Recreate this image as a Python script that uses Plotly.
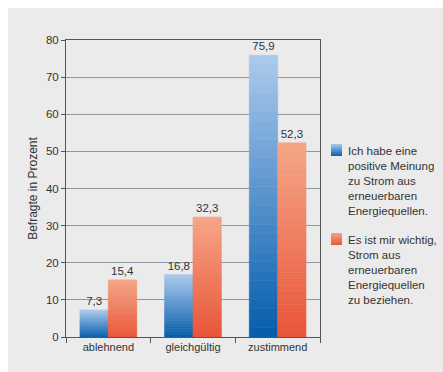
import plotly.graph_objects as go

categories = ["ablehnend", "gleichgültig", "zustimmend"]
meinung = [7.3, 16.8, 75.9]
wichtig = [15.4, 32.3, 52.3]
series_names = [
    "Ich habe eine<br>positive Meinung<br>zu Strom aus<br>erneuerbaren<br>Energiequellen.",
    "Es ist mir wichtig,<br>Strom aus<br>erneuerbaren<br>Energiequellen<br>zu beziehen.",
]

# gradient end points (top colour, bottom colour) per series
blue_top, blue_bottom = (170, 200, 236), (6, 94, 173)
red_top, red_bottom = (245, 165, 135), (233, 86, 58)

N_SEG = 30

W, H = 443, 372
ML, MR, MT, MB = 66, 123, 40, 35
PW, PH = W - ML - MR, H - MT - MB


def px_x(x):
    return (x - ML) / PW


def px_y(y):
    return (H - MB - y) / PH


def mix(c1, c2, t):
    return "rgb({},{},{})".format(*[round(a + (b - a) * t) for a, b in zip(c1, c2)])


def fmt(v):
    return f"{v:.1f}".replace(".", ",")


fig = go.Figure()

series = [
    (meinung, blue_top, blue_bottom),
    (wichtig, red_top, red_bottom),
]

for s, (vals, top, bottom) in enumerate(series):
    for i in range(N_SEG):
        t = i / (N_SEG - 1)
        last = i == N_SEG - 1
        col = mix(bottom, top, t)
        fig.add_trace(go.Bar(
            x=categories,
            y=[v / N_SEG for v in vals],
            base=[v * i / N_SEG for v in vals],
            offsetgroup=str(s),
            showlegend=False,
            marker=dict(color=col, line=dict(width=0.6, color=col)),
            text=[fmt(v) for v in vals] if last else None,
            textposition="outside" if last else "none",
            textfont=dict(size=11.5, color="#333333"),
            constraintext="none",
            cliponaxis=False,
            hoverinfo="skip",
        ))

# legend: gradient swatches and multi-line labels
shapes = [
    # grey panel behind the chart
    dict(type="rect", xref="paper", yref="paper", x0=px_x(8), x1=px_x(W + 10),
         y0=px_y(H + 10), y1=px_y(8), fillcolor="#ebebeb", line=dict(width=0), layer="below"),
]
annotations = []
legend_tops = [144, 233]
n_strip = 6
for (vals, top, bottom), name, ytop in zip(series, series_names, legend_tops):
    for k in range(n_strip):
        y0 = ytop + 12 * k / n_strip
        y1 = ytop + 12 * (k + 1) / n_strip
        shapes.append(dict(
            type="rect", xref="paper", yref="paper",
            x0=px_x(331), x1=px_x(342), y0=px_y(y1), y1=px_y(y0),
            fillcolor=mix(top, bottom, (k + 0.5) / n_strip), line=dict(width=0),
        ))
    annotations.append(dict(
        xref="paper", yref="paper", x=px_x(346), y=px_y(ytop - 1.5),
        xanchor="left", yanchor="top", align="left", showarrow=False,
        text=name, font=dict(size=11.5, color="#333333"),
    ))

fig.update_layout(
    width=W,
    height=H,
    barmode="group",
    bargap=0.33,
    bargroupgap=0,
    margin=dict(l=ML, r=MR, t=MT, b=MB, autoexpand=False),
    paper_bgcolor="white",
    plot_bgcolor="#e8f4fc",
    font=dict(family="Liberation Sans, Arial, sans-serif", size=11, color="#333333"),
    separators=",.",
    showlegend=False,
    shapes=shapes,
    annotations=annotations,
)

fig.update_yaxes(
    range=[0, 80], dtick=10,
    showgrid=True, gridcolor="#8d99a2", gridwidth=1,
    showline=True, linecolor="#555555", linewidth=1, mirror=True,
    ticks="outside", ticklen=4, tickcolor="#555555",
    zeroline=False,
    tickfont=dict(size=11.5, color="#333333"),
    title=dict(text="Befragte in Prozent", font=dict(size=12, color="#333333"), standoff=5),
)
fig.update_xaxes(
    showline=True, linecolor="#555555", linewidth=1, mirror=True,
    ticks="outside", tickson="boundaries", ticklen=5, tickcolor="#555555",
    tickangle=0,
    tickfont=dict(size=11, color="#333333"),
)

fig.write_html("out.html")
